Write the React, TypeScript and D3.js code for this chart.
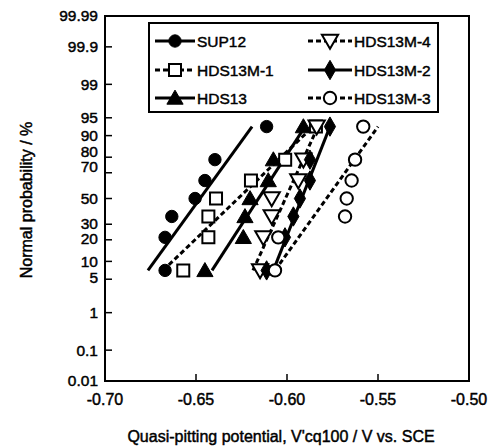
import React from "react";
import * as d3 from "d3";

// ---- data ----
const seriesNames = ["SUP12", "HDS13M-1", "HDS13", "HDS13M-4", "HDS13M-2", "HDS13M-3"];
const probabilities = [7.14, 21.43, 35.71, 50, 64.29, 78.57, 92.86];
const sup12 = [-0.667, -0.667, -0.6633, -0.6505, -0.6451, -0.6396, -0.6112];
const hds13m1 = [-0.657, -0.6432, -0.6432, -0.639, -0.6198, -0.601, -0.5841];
const hds13 = [-0.6451, -0.624, -0.6231, -0.6203, -0.6103, -0.6075, -0.591];
const hds13m4 = [-0.6148, -0.613, -0.6084, -0.6084, -0.5938, -0.591, -0.5837];
const hds13m2 = [-0.6112, -0.6011, -0.5965, -0.5929, -0.5874, -0.5874, -0.5764];
const hds13m3 = [-0.6066, -0.6048, -0.5681, -0.5672, -0.5645, -0.5626, -0.5581];
// fitted line end values (potential at lowest / highest probability)
const fitLow = [-0.6764, -0.6681, -0.6412, -0.6187, -0.6075, -0.6066];
const fitHigh = [-0.6192, -0.5857, -0.5901, -0.583, -0.5764, -0.55];
const xTicks = [-0.7, -0.65, -0.6, -0.55, -0.5];
const yTicks = [0.01, 0.1, 1, 5, 10, 20, 30, 50, 70, 80, 90, 95, 99, 99.9, 99.99];

const values = [sup12, hds13m1, hds13, hds13m4, hds13m2, hds13m3];
const markerKind = ["circle", "square", "triangle", "triangleDown", "diamond", "circle"];
const markerFilled = [true, false, true, false, true, false];
const dashed = [false, true, false, true, false, true];

// inverse normal CDF (Acklam)
function probit(p: number): number {
  const a = [-3.969683028665376e1, 2.209460984245205e2, -2.759285104469687e2, 1.38357751867269e2, -3.066479806614716e1, 2.506628277459239];
  const b = [-5.447609879822406e1, 1.615858368580409e2, -1.556989798598866e2, 6.680131188771972e1, -1.328068155288572e1];
  const c = [-7.784894002430293e-3, -3.223964580411365e-1, -2.400758277161838, -2.549732539343734, 4.374664141464968, 2.938163982698783];
  const d = [7.784695709041462e-3, 3.224671290700398e-1, 2.445134137142996, 3.754408661907416];
  const pl = 0.02425;
  let q, r;
  if (p < pl) {
    q = Math.sqrt(-2 * Math.log(p));
    return (((((c[0] * q + c[1]) * q + c[2]) * q + c[3]) * q + c[4]) * q + c[5]) / ((((d[0] * q + d[1]) * q + d[2]) * q + d[3]) * q + 1);
  } else if (p <= 1 - pl) {
    q = p - 0.5;
    r = q * q;
    return ((((((a[0] * r + a[1]) * r + a[2]) * r + a[3]) * r + a[4]) * r + a[5]) * q) / (((((b[0] * r + b[1]) * r + b[2]) * r + b[3]) * r + b[4]) * r + 1);
  } else {
    q = Math.sqrt(-2 * Math.log(1 - p));
    return -(((((c[0] * q + c[1]) * q + c[2]) * q + c[3]) * q + c[4]) * q + c[5]) / ((((d[0] * q + d[1]) * q + d[2]) * q + d[3]) * q + 1);
  }
}

const W = 497, H = 448;
const L = 105, R = 469, T = 16, B = 381;
const FONT = "'Liberation Sans', Arial, Helvetica, sans-serif";

const x = d3.scaleLinear().domain([-0.7, -0.5]).range([L, R]);
const zScale = d3.scaleLinear().domain([probit(0.0001), probit(0.9999)]).range([B, T]);
const y = (p: number) => zScale(probit(p / 100));

const labelDy: Record<string, number> = { "80": -6, "70": -6, "30": -1, "20": -1, "5": -2, "99.99": -1, "0.01": -1 };

function markerPath(kind: string, size: number) {
  if (kind === "circle") return d3.symbol().type(d3.symbolCircle).size(size)()!;
  if (kind === "square") return d3.symbol().type(d3.symbolSquare).size(size * 1.2)()!;
  if (kind === "diamond") return d3.symbol().type(d3.symbolDiamond).size(size * 0.9)()!;
  return d3.symbol().type(d3.symbolTriangle).size(size * 0.95)()!;
}

function Marker({ i, cx, cy }: { i: number; cx: number; cy: number }) {
  const kind = markerKind[i];
  const filled = markerFilled[i];
  const rot = kind === "triangleDown" ? 180 : 0;
  const dyT = kind === "triangle" ? 1.5 : kind === "triangleDown" ? -1.5 : 0;
  return (
    <path
      d={markerPath(kind, 120)}
      transform={`translate(${cx},${cy + dyT}) rotate(${rot})`}
      fill={filled ? "#000" : "#fff"}
      stroke="#000"
      strokeWidth={filled ? 1 : 2}
    />
  );
}

const textInk = { stroke: "#000", strokeWidth: 0.45 };

export default function App() {
  const line = d3.line<[number, number]>().x((d) => x(d[0])).y((d) => y(d[1]));
  const legendLeft = [0, 1, 2];
  const legendRight = [3, 4, 5];
  const rowY = [41, 70, 98];
  return (
    <svg width={W} height={H} style={{ position: "absolute", left: 0, top: 0, background: "#fff" }} fontFamily={FONT}>
      <rect x={0} y={0} width={W} height={H} fill="#fff" />
      {/* fit lines */}
      {values.map((_, i) => (
        <path
          key={"l" + i}
          d={line([
            [fitLow[i], probabilities[0]],
            [fitHigh[i], probabilities[probabilities.length - 1]],
          ])!}
          stroke="#000"
          strokeWidth={3}
          strokeDasharray={dashed[i] ? "5,3" : undefined}
          fill="none"
        />
      ))}
      {/* markers */}
      {values.map((vals, i) =>
        vals.map((v, j) => <Marker key={`m${i}-${j}`} i={i} cx={x(v)} cy={y(probabilities[j])} />)
      )}
      {/* frame */}
      <rect x={L} y={T} width={R - L} height={B - T} fill="none" stroke="#000" strokeWidth={2} />
      {/* y ticks */}
      {yTicks.map((t) => (
        <g key={"y" + t}>
          {t !== 0.01 && t !== 99.99 && <line x1={L} x2={L + 7} y1={y(t)} y2={y(t)} stroke="#000" strokeWidth={1.5} />}
          <text x={L - 7} y={y(t) + (labelDy[String(t)] || 0)} dy="0.36em" textAnchor="end" fontSize={15.5} {...textInk}>
            {String(t)}
          </text>
        </g>
      ))}
      {/* x ticks */}
      {xTicks.map((t) => (
        <g key={"x" + t}>
          {t !== -0.7 && t !== -0.5 && <line x1={x(t)} x2={x(t)} y1={B} y2={B - 7} stroke="#000" strokeWidth={1.5} />}
          <text x={x(t)} y={B + 18} dy="0.36em" textAnchor="middle" fontSize={16} {...textInk}>
            {d3.format(".2f")(t).replace("−", "-")}
          </text>
        </g>
      ))}
      {/* axis titles */}
      <text x={281} y={436} dy="0.36em" textAnchor="middle" fontSize={16} {...textInk}>
        Quasi-pitting potential, V'cq100 / V vs. SCE
      </text>
      <text transform={`translate(26,200) rotate(-90)`} dy="0.36em" textAnchor="middle" fontSize={16} {...textInk}>
        Normal probability / %
      </text>
      {/* legend */}
      <rect x={149} y={23} width={289} height={89} fill="#fff" stroke="#000" strokeWidth={2} />
      {[legendLeft, legendRight].map((col, ci) =>
        col.map((i, ri) => {
          const x0 = ci === 0 ? 155 : 308;
          const x1 = ci === 0 ? 195 : 352;
          const cy = rowY[ri];
          return (
            <g key={"lg" + i}>
              <line x1={x0} x2={x1} y1={cy} y2={cy} stroke="#000" strokeWidth={3} strokeDasharray={dashed[i] ? "5,3" : undefined} />
              <Marker i={i} cx={(x0 + x1) / 2} cy={cy} />
              <text x={x1 + 2} y={cy} dy="0.36em" fontSize={15.5} {...textInk}>
                {seriesNames[i]}
              </text>
            </g>
          );
        })
      )}
    </svg>
  );
}
